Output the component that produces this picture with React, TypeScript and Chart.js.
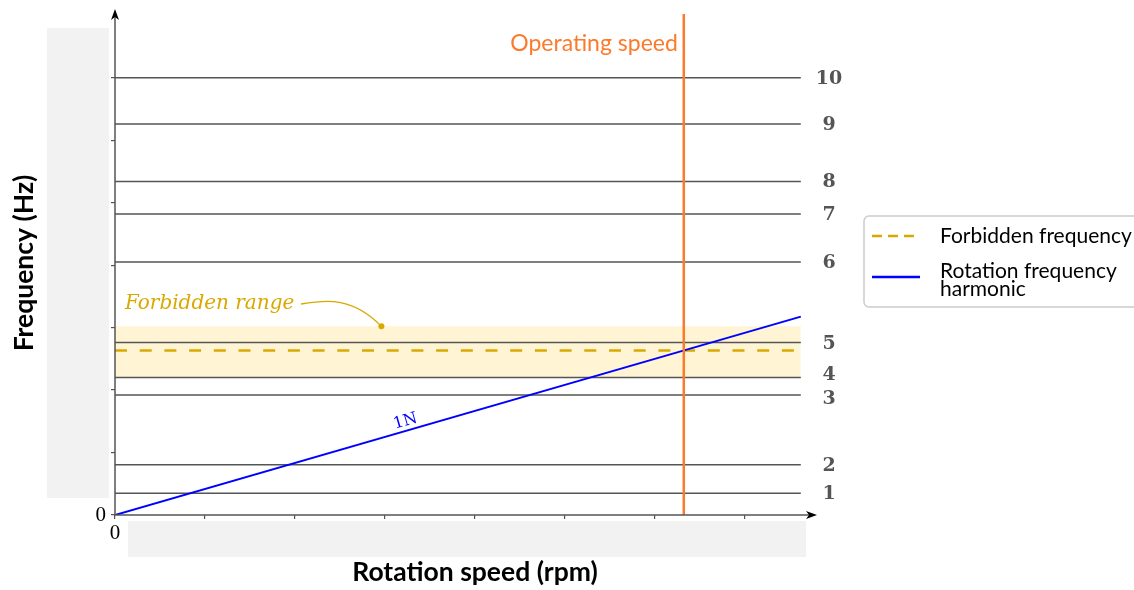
import React, { useEffect, useRef } from "react";
import { Chart, registerables } from "chart.js";

Chart.register(...registerables);

// ---- data ----
const rpmTicks = [0, 250, 500, 750, 1000, 1250, 1500, 1750];
const freqTicks = [0, 10, 20, 30, 40, 50, 60, 70];
const rpmAxisMax = 1950;
const freqAxisMax = 81;
const rpmEnd = 1905;
const modeLabels = ["1", "2", "3", "4", "5", "6", "7", "8", "9", "10"];
const modeFreqs = [3.5, 8.05, 19.2, 22.0, 27.6, 40.5, 48.2, 53.4, 62.6, 70.0];
const operatingSpeed = 1580;
const operatingLineTop = 80.2;
const forbiddenFreq = 26.33;
const forbiddenLow = 22.1;
const forbiddenHigh = 30.2;
const harmonicRpm = [0, 1905];
const harmonicFreq = [0, 31.75];
const harmonicLabelRpm = 814;
const annotationPoint = { x: 740, y: 30.2 };

const GREY = "#555555";
const GOLD = "#d9a900";
const BLUE = "#0000ff";
const ORANGE = "#fb7a2c";
const BAND = "#fff5d5";

const SANS = "Lato, 'Open Sans', sans-serif";
const SERIF = "'DejaVu Serif', serif";

function arrowHead(ctx: CanvasRenderingContext2D, x: number, y: number, dir: "up" | "right") {
  ctx.save();
  ctx.fillStyle = "#000";
  ctx.beginPath();
  if (dir === "up") {
    ctx.moveTo(x, y);
    ctx.lineTo(x - 4, y + 11);
    ctx.lineTo(x, y + 8);
    ctx.lineTo(x + 4, y + 11);
  } else {
    ctx.moveTo(x, y);
    ctx.lineTo(x - 11, y - 4);
    ctx.lineTo(x - 8, y);
    ctx.lineTo(x - 11, y + 4);
  }
  ctx.closePath();
  ctx.fill();
  ctx.restore();
}

const overlayPlugin = {
  id: "overlay",
  beforeDraw(chart: any) {
    const ctx = chart.ctx as CanvasRenderingContext2D;
    ctx.save();
    ctx.fillStyle = "#ffffff";
    ctx.fillRect(0, 0, chart.width, chart.height);
    ctx.restore();
  },
  afterDraw(chart: any) {
    const ctx = chart.ctx as CanvasRenderingContext2D;
    const xs = chart.scales.x;
    const ys = chart.scales.y;
    const ca = chart.chartArea;
    ctx.save();

    // redaction boxes over tick labels
    ctx.fillStyle = "#f2f2f2";
    ctx.fillRect(47, 28, 62, 470);
    ctx.fillRect(128, 521, 678, 36);

    // axes with arrows
    const x0 = xs.getPixelForValue(0);
    const y0 = ys.getPixelForValue(0);
    ctx.strokeStyle = "#555";
    ctx.lineWidth = 1.5;
    ctx.beginPath();
    ctx.moveTo(x0, y0);
    ctx.lineTo(x0, ca.top + 4);
    ctx.moveTo(x0, y0);
    ctx.lineTo(ca.right - 4, y0);
    ctx.stroke();
    arrowHead(ctx, x0, ca.top, "up");
    arrowHead(ctx, ca.right, y0, "right");

    // mode labels with simple repel
    const ys0 = modeFreqs.map((f) => ys.getPixelForValue(f));
    const pos = ys0.slice();
    const minGap = 24;
    for (let it = 0; it < 20; it++) {
      for (let i = 0; i < pos.length - 1; i++) {
        const d = pos[i] - pos[i + 1];
        if (d < minGap) {
          const push = (minGap - d) / 2;
          pos[i] += push;
          pos[i + 1] -= push;
        }
      }
    }
    ctx.fillStyle = "#555";
    ctx.font = `bold 19px ${SERIF}`;
    ctx.textAlign = "center";
    ctx.textBaseline = "middle";
    modeLabels.forEach((lab, i) => {
      ctx.fillText(lab, 829, pos[i] + 1);
    });

    // operating speed text
    const xo = xs.getPixelForValue(operatingSpeed);
    ctx.fillStyle = ORANGE;
    ctx.font = `23px ${SANS}`;
    ctx.textAlign = "right";
    ctx.textBaseline = "middle";
    ctx.fillText("Operating speed", xo - 6, 44);

    // forbidden range annotation
    const ax = xs.getPixelForValue(annotationPoint.x);
    const ay = ys.getPixelForValue(annotationPoint.y);
    ctx.fillStyle = GOLD;
    ctx.font = `italic 20px ${SERIF}`;
    ctx.textAlign = "left";
    ctx.textBaseline = "middle";
    ctx.fillText("Forbidden range", 125, 304);
    ctx.strokeStyle = GOLD;
    ctx.lineWidth = 1.3;
    ctx.beginPath();
    ctx.moveTo(301, 304);
    ctx.bezierCurveTo(325, 300, 352, 296, ax, ay);
    ctx.stroke();
    ctx.beginPath();
    ctx.arc(ax, ay, 3, 0, Math.PI * 2);
    ctx.fill();

    // 1N label
    const p0x = xs.getPixelForValue(harmonicRpm[0]);
    const p0y = ys.getPixelForValue(harmonicFreq[0]);
    const p1x = xs.getPixelForValue(harmonicRpm[1]);
    const p1y = ys.getPixelForValue(harmonicFreq[1]);
    const ang = Math.atan2(p1y - p0y, p1x - p0x);
    const t = harmonicLabelRpm / harmonicRpm[1];
    const lx = p0x + (p1x - p0x) * t;
    const ly = p0y + (p1y - p0y) * t;
    ctx.save();
    ctx.translate(lx, ly);
    ctx.rotate(ang);
    ctx.fillStyle = BLUE;
    ctx.font = `16px ${SERIF}`;
    ctx.textAlign = "center";
    ctx.textBaseline = "alphabetic";
    ctx.fillText("1N", 0, -5);
    ctx.restore();

    // axis titles
    ctx.fillStyle = "#000";
    ctx.font = `bold 26.5px ${SANS}`;
    ctx.textAlign = "center";
    ctx.textBaseline = "middle";
    ctx.fillText("Rotation speed (rpm)", 475, 572);
    ctx.save();
    ctx.translate(24, 263);
    ctx.rotate(-Math.PI / 2);
    ctx.fillText("Frequency (Hz)", 0, 0);
    ctx.restore();

    // legend
    const lx0 = 864, ly0 = 216, lw = 290, lh = 91, r = 5;
    ctx.fillStyle = "#fff";
    ctx.strokeStyle = "#cccccc";
    ctx.lineWidth = 1.5;
    ctx.beginPath();
    ctx.moveTo(lx0 + r, ly0);
    ctx.lineTo(lx0 + lw, ly0);
    ctx.lineTo(lx0 + lw, ly0 + lh);
    ctx.lineTo(lx0 + r, ly0 + lh);
    ctx.arcTo(lx0, ly0 + lh, lx0, ly0 + lh - r, r);
    ctx.lineTo(lx0, ly0 + r);
    ctx.arcTo(lx0, ly0, lx0 + r, ly0, r);
    ctx.closePath();
    ctx.fill();
    ctx.stroke();

    ctx.lineWidth = 2.5;
    ctx.strokeStyle = GOLD;
    ctx.setLineDash([10, 6]);
    ctx.beginPath();
    ctx.moveTo(872, 236);
    ctx.lineTo(920, 236);
    ctx.stroke();
    ctx.setLineDash([]);
    ctx.strokeStyle = BLUE;
    ctx.beginPath();
    ctx.moveTo(872, 277);
    ctx.lineTo(920, 277);
    ctx.stroke();

    ctx.fillStyle = "#000";
    ctx.font = `21px ${SANS}`;
    ctx.textAlign = "left";
    ctx.textBaseline = "middle";
    ctx.fillText("Forbidden frequency", 940, 236);
    ctx.fillText("Rotation frequency", 940, 271);
    ctx.fillText("harmonic", 940, 289);

    ctx.restore();
  },
};

export default function App() {
  const ref = useRef<HTMLCanvasElement | null>(null);

  useEffect(() => {
    if (!ref.current) return;
    const modeDatasets = modeFreqs.map((f, i) => ({
      label: "Mode " + modeLabels[i],
      data: [
        { x: 0, y: f },
        { x: rpmEnd, y: f },
      ],
      borderColor: GREY,
      borderWidth: 1.5,
      pointRadius: 0,
      fill: false,
      order: 5,
    }));

    const chart = new Chart(ref.current, {
      type: "line",
      data: {
        datasets: [
          {
            label: "bandLow",
            data: [
              { x: 0, y: forbiddenLow },
              { x: rpmEnd, y: forbiddenLow },
            ],
            borderWidth: 0,
            borderColor: "rgba(0,0,0,0)",
            pointRadius: 0,
            fill: false,
            order: 10,
          },
          {
            label: "bandHigh",
            data: [
              { x: 0, y: forbiddenHigh },
              { x: rpmEnd, y: forbiddenHigh },
            ],
            borderWidth: 0,
            borderColor: "rgba(0,0,0,0)",
            backgroundColor: BAND,
            pointRadius: 0,
            fill: "-1",
            order: 9,
          },
          ...modeDatasets,
          {
            label: "Forbidden frequency",
            data: [
              { x: 0, y: forbiddenFreq },
              { x: rpmEnd, y: forbiddenFreq },
            ],
            borderColor: GOLD,
            borderWidth: 2.3,
            borderDash: [12, 12.7],
            pointRadius: 0,
            fill: false,
            order: 3,
          },
          {
            label: "Rotation frequency harmonic",
            data: harmonicRpm.map((x, i) => ({ x, y: harmonicFreq[i] })),
            borderColor: BLUE,
            borderWidth: 2,
            pointRadius: 0,
            fill: false,
            order: 2,
          },
          {
            label: "Operating speed",
            data: [
              { x: operatingSpeed, y: 0 },
              { x: operatingSpeed, y: operatingLineTop },
            ],
            borderColor: ORANGE,
            borderWidth: 2.5,
            pointRadius: 0,
            fill: false,
            order: 1,
          },
        ] as any,
      },
      options: {
        animation: false,
        responsive: false,
        maintainAspectRatio: false,
        layout: { padding: { left: 0, right: 1134 - 817, top: 9, bottom: 0 } },
        plugins: {
          legend: { display: false },
          tooltip: { enabled: false },
          title: { display: false },
        },
        elements: { line: { tension: 0 } },
        scales: {
          x: {
            type: "linear",
            min: 0,
            max: rpmAxisMax,
            afterBuildTicks: (scale: any) => {
              scale.ticks = rpmTicks.map((v) => ({ value: v }));
            },
            afterFit: (scale: any) => {
              scale.height = 75;
              scale.paddingLeft = 0;
              scale.paddingRight = 0;
            },
            grid: {
              display: true,
              drawOnChartArea: false,
              drawTicks: true,
              tickLength: 4,
              color: "#555",
              lineWidth: 1.2,
            },
            border: { display: false },
            ticks: {
              autoSkip: false,
              maxRotation: 0,
              padding: 2,
              color: "#000",
              font: { family: "'Liberation Serif', serif", size: 21 },
              callback: (v: any) => (Number(v) === 0 ? "0" : ""),
            },
          },
          y: {
            type: "linear",
            min: 0,
            max: freqAxisMax,
            afterBuildTicks: (scale: any) => {
              scale.ticks = freqTicks.map((v) => ({ value: v }));
            },
            afterFit: (scale: any) => {
              scale.width = 115;
              scale.paddingTop = 0;
              scale.paddingBottom = 0;
            },
            grid: {
              display: true,
              drawOnChartArea: false,
              drawTicks: true,
              tickLength: 4,
              color: "#555",
              lineWidth: 1.2,
            },
            border: { display: false },
            ticks: {
              autoSkip: false,
              padding: 5,
              color: "#000",
              font: { family: "'Liberation Serif', serif", size: 21 },
              callback: (v: any) => (Number(v) === 0 ? "0" : ""),
            },
          },
        },
      } as any,
      plugins: [overlayPlugin],
    });
    return () => chart.destroy();
  }, []);

  return (
    <div style={{ position: "fixed", left: 0, top: 0, width: 1134, height: 590 }}>
      <canvas ref={ref} width={1134} height={590} style={{ width: 1134, height: 590 }} />
    </div>
  );
}
